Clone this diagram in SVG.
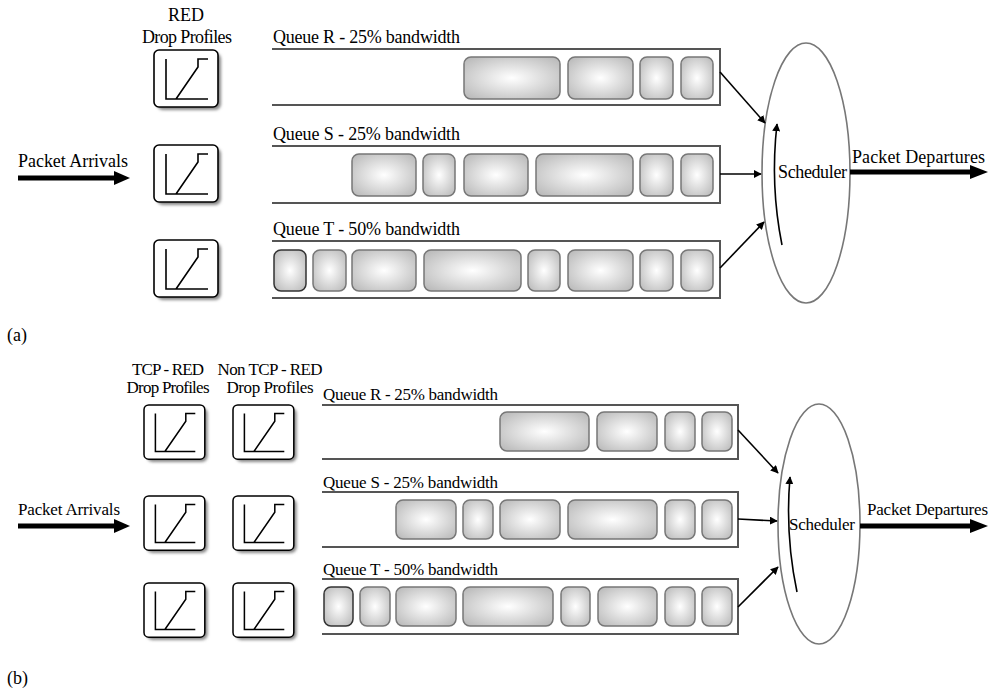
<svg xmlns="http://www.w3.org/2000/svg" xmlns:xlink="http://www.w3.org/1999/xlink" width="989" height="690" viewBox="0 0 989 690">
<style>
text{font-family:"Liberation Serif","Times New Roman",serif;fill:#000}
.t17{font-size:18px}
.t16{font-size:17px}
.lab{font-size:18px}
.q{fill:none;stroke:#555;stroke-width:2}
.pk{fill:url(#pg);stroke:#777;stroke-width:1.5}
.pkd{fill:url(#pg);stroke:#333;stroke-width:1.5}
.ell{fill:none;stroke:#777;stroke-width:1.6}
.con{stroke:#000;stroke-width:1.6;fill:none;marker-end:url(#ah)}
.big{stroke:#000;stroke-width:5;fill:none}
.prof{fill:none;stroke:#000;stroke-width:1.6}
</style>
<defs>
<radialGradient id="pg" cx="50%" cy="50%" r="70%">
<stop offset="0" stop-color="#ffffff"/>
<stop offset="0.15" stop-color="#f4f4f4"/>
<stop offset="1" stop-color="#b5b5b5"/>
</radialGradient>
<filter id="sh" x="-20%" y="-20%" width="150%" height="150%">
<feGaussianBlur stdDeviation="1.4"/>
</filter>
<marker id="ah" viewBox="0 0 10 10" refX="9" refY="5" markerWidth="8" markerHeight="8" markerUnits="userSpaceOnUse" orient="auto">
<path d="M0,0 L10,5 L0,10 z" fill="#000"/>
</marker>
<g id="pf">
<rect x="3" y="3" width="64" height="57" rx="6" fill="#888" filter="url(#sh)"/>
<rect x="0" y="0" width="64" height="57" rx="5" fill="#fff" stroke="#000" stroke-width="1.6"/>
<path class="prof" d="M12,9 V49 H54 M22,49 L44,17 V9 H54"/>
</g>
</defs>

<!-- ===== (a) ===== -->
<g id="a-labels">
<text class="t17" x="186" y="21" text-anchor="middle">RED</text>
<text class="t17" x="187" y="43" text-anchor="middle" textLength="90">Drop Profiles</text>
</g>
<g id="a-prof-r"><use xlink:href="#pf" transform="translate(154,50)"/></g>
<g id="a-prof-s"><use xlink:href="#pf" transform="translate(154,145)"/></g>
<g id="a-prof-t"><use xlink:href="#pf" transform="translate(154,240)"/></g>

<g id="a-queue-r">
<text class="t17" x="273" y="43" textLength="187">Queue R - 25% bandwidth</text>
<path class="q" d="M272,49 H720 V105 H272"/>
<rect class="pk" x="464" y="57" width="96" height="42" rx="7"/>
<rect class="pk" x="568" y="57" width="65" height="42" rx="7"/>
<rect class="pk" x="640" y="57" width="33" height="42" rx="7"/>
<rect class="pk" x="681" y="57" width="32" height="42" rx="7"/>
</g>
<g id="a-queue-s">
<text class="t17" x="273" y="140" textLength="187">Queue S - 25% bandwidth</text>
<path class="q" d="M272,146 H720 V203 H272"/>
<rect class="pk" x="352" y="154" width="64" height="42" rx="7"/>
<rect class="pk" x="423" y="154" width="32" height="42" rx="7"/>
<rect class="pk" x="464" y="154" width="64" height="42" rx="7"/>
<rect class="pk" x="536" y="154" width="97" height="42" rx="7"/>
<rect class="pk" x="640" y="154" width="33" height="42" rx="7"/>
<rect class="pk" x="681" y="154" width="32" height="42" rx="7"/>
</g>
<g id="a-queue-t">
<text class="t17" x="273" y="235" textLength="187">Queue T - 50% bandwidth</text>
<path class="q" d="M272,241 H720 V298 H272"/>
<rect class="pkd" x="274" y="250" width="32" height="41" rx="7"/>
<rect class="pk" x="313" y="250" width="33" height="41" rx="7"/>
<rect class="pk" x="352" y="250" width="64" height="41" rx="7"/>
<rect class="pk" x="424" y="250" width="97" height="41" rx="7"/>
<rect class="pk" x="528" y="250" width="32" height="41" rx="7"/>
<rect class="pk" x="568" y="250" width="65" height="41" rx="7"/>
<rect class="pk" x="640" y="250" width="33" height="41" rx="7"/>
<rect class="pk" x="681" y="250" width="32" height="41" rx="7"/>
</g>
<g id="a-scheduler">
<ellipse class="ell" cx="806" cy="173" rx="44" ry="130"/>
<text class="t17" x="778" y="178" textLength="69">Scheduler</text>
<path class="con" d="M782,245 Q770,185 777,124"/>
</g>
<g id="a-arrivals">
<text class="t17" x="18" y="167" textLength="110">Packet Arrivals</text>
</g>
<g id="a-departures">
<text class="t17" x="852" y="163" textLength="133">Packet Departures</text>
</g>
<text class="lab" x="7" y="341">(a)</text>

<!-- ===== (b) ===== -->
<g id="b-labels">
<text class="t16" x="168" y="375" text-anchor="middle" textLength="72">TCP - RED</text>
<text class="t16" x="168" y="393" text-anchor="middle" textLength="83">Drop Profiles</text>
<text class="t16" x="270" y="375" text-anchor="middle" textLength="105">Non TCP - RED</text>
<text class="t16" x="270" y="393" text-anchor="middle" textLength="87">Drop Profiles</text>
</g>
<g id="b-prof1-r"><use xlink:href="#pf" transform="translate(144,405) scale(0.95)"/></g>
<g id="b-prof2-r"><use xlink:href="#pf" transform="translate(233,405) scale(0.95)"/></g>
<g id="b-prof1-s"><use xlink:href="#pf" transform="translate(144,496) scale(0.95)"/></g>
<g id="b-prof2-s"><use xlink:href="#pf" transform="translate(233,496) scale(0.95)"/></g>
<g id="b-prof1-t"><use xlink:href="#pf" transform="translate(144,583) scale(0.95)"/></g>
<g id="b-prof2-t"><use xlink:href="#pf" transform="translate(233,583) scale(0.95)"/></g>

<g id="b-queue-r">
<text class="t16" x="323" y="400" textLength="175">Queue R - 25% bandwidth</text>
<path class="q" d="M322,405 H738 V459 H322"/>
<rect class="pk" x="500" y="412" width="89" height="39" rx="7"/>
<rect class="pk" x="597" y="412" width="60" height="39" rx="7"/>
<rect class="pk" x="665" y="412" width="30" height="39" rx="7"/>
<rect class="pk" x="702" y="412" width="30" height="39" rx="7"/>
</g>
<g id="b-queue-s">
<text class="t16" x="323" y="488" textLength="175">Queue S - 25% bandwidth</text>
<path class="q" d="M322,492 H738 V547 H322"/>
<rect class="pk" x="396" y="500" width="60" height="39" rx="7"/>
<rect class="pk" x="463" y="500" width="30" height="39" rx="7"/>
<rect class="pk" x="500" y="500" width="60" height="39" rx="7"/>
<rect class="pk" x="568" y="500" width="89" height="39" rx="7"/>
<rect class="pk" x="665" y="500" width="30" height="39" rx="7"/>
<rect class="pk" x="702" y="500" width="30" height="39" rx="7"/>
</g>
<g id="b-queue-t">
<text class="t16" x="323" y="575" textLength="175">Queue T - 50% bandwidth</text>
<path class="q" d="M322,579 H738 V634 H322"/>
<rect class="pkd" x="324" y="587" width="29" height="39" rx="7"/>
<rect class="pk" x="360" y="587" width="30" height="39" rx="7"/>
<rect class="pk" x="396" y="587" width="60" height="39" rx="7"/>
<rect class="pk" x="463" y="587" width="90" height="39" rx="7"/>
<rect class="pk" x="561" y="587" width="29" height="39" rx="7"/>
<rect class="pk" x="598" y="587" width="59" height="39" rx="7"/>
<rect class="pk" x="665" y="587" width="30" height="39" rx="7"/>
<rect class="pk" x="702" y="587" width="30" height="39" rx="7"/>
</g>
<g id="b-scheduler">
<ellipse class="ell" cx="819" cy="524" rx="41" ry="120"/>
<text class="t16" x="789" y="530" textLength="66">Scheduler</text>
<path class="con" d="M797,592 Q785,535 790,477"/>
</g>
<g id="b-arrivals">
<text class="t16" x="18" y="515" textLength="102">Packet Arrivals</text>
</g>
<g id="b-departures">
<text class="t16" x="867" y="515" textLength="121">Packet Departures</text>
</g>
<text class="lab" x="7" y="684">(b)</text>

<!-- connectors -->
<g id="connectors">
<line class="big" x1="18" y1="178" x2="116" y2="178"/>
<polygon points="114,171 130,178 114,185" fill="#000"/>
<line class="big" x1="850" y1="172" x2="972" y2="172"/>
<polygon points="970,165 988,172 970,179" fill="#000"/>
<line class="con" x1="720" y1="72" x2="765" y2="123"/>
<line class="con" x1="720" y1="174" x2="761" y2="174"/>
<line class="con" x1="720" y1="268" x2="764" y2="222"/>

<line class="big" x1="18" y1="526" x2="116" y2="526"/>
<polygon points="114,519 130,526 114,533" fill="#000"/>
<line class="big" x1="860" y1="526" x2="972" y2="526"/>
<polygon points="970,519 988,526 970,533" fill="#000"/>
<line class="con" x1="738" y1="430" x2="778" y2="473"/>
<line class="con" x1="738" y1="519" x2="777" y2="521"/>
<line class="con" x1="738" y1="607" x2="778" y2="567"/>
</g>
</svg>
